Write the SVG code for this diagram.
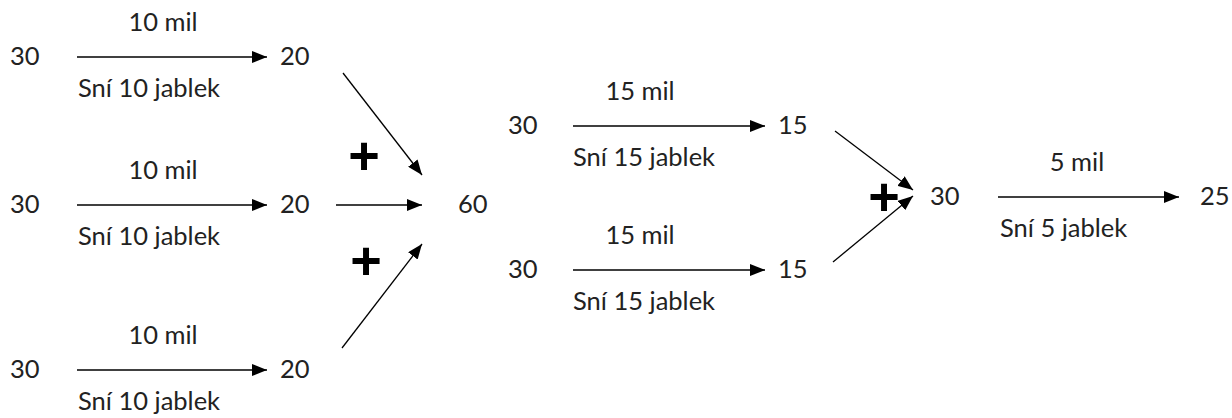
<svg xmlns="http://www.w3.org/2000/svg" width="1232" height="418" viewBox="0 0 1232 418">
<style>
text{font-family:"Lato","Liberation Sans",sans-serif;font-size:25.5px;fill:#222}
.m{text-anchor:middle}
.p{font-family:"Liberation Sans",sans-serif;font-weight:bold;font-size:54px;fill:#000;text-anchor:middle}
.c line{stroke:#000;stroke-width:1.3;marker-end:url(#ah)}
</style>
<defs>
<marker id="ah" viewBox="0 0 15 12" refX="15" refY="6" markerWidth="15" markerHeight="12" markerUnits="userSpaceOnUse" orient="auto">
<path d="M0,0 L15,6 L0,12 Z" fill="#000"/>
</marker>
</defs>
<g id="n1"><text x="10" y="65">30</text><text x="280" y="65">20</text><text class="m" x="163" y="31">10 mil</text><text x="78" y="97">Sní 10 jablek</text></g>
<g id="n2"><text x="10" y="213">30</text><text x="280" y="213">20</text><text class="m" x="163" y="179">10 mil</text><text x="78" y="245">Sní 10 jablek</text></g>
<g id="n3"><text x="10" y="378">30</text><text x="280" y="378">20</text><text class="m" x="163" y="344">10 mil</text><text x="78" y="410">Sní 10 jablek</text></g>
<g id="n60"><text x="458" y="213">60</text></g>
<g id="n4"><text x="508" y="134">30</text><text x="778" y="134">15</text><text class="m" x="640" y="100">15 mil</text><text x="573" y="166">Sní 15 jablek</text></g>
<g id="n5"><text x="508" y="278">30</text><text x="778" y="278">15</text><text class="m" x="640" y="244">15 mil</text><text x="573" y="310">Sní 15 jablek</text></g>
<g id="n6"><text x="930" y="205">30</text><text x="1200" y="205">25</text><text class="m" x="1077" y="171">5 mil</text><text x="1000" y="237">Sní 5 jablek</text></g>
<g id="plus"><text class="p" x="364" y="174">+</text><text class="p" x="366" y="279">+</text><text class="p" x="884" y="215">+</text></g>
<g class="c" id="connectors">
<line x1="77" y1="57" x2="267" y2="57"/>
<line x1="77" y1="205" x2="267" y2="205"/>
<line x1="77" y1="370" x2="267" y2="370"/>
<line x1="343" y1="73" x2="422" y2="175"/>
<line x1="336" y1="205" x2="422" y2="205"/>
<line x1="342" y1="348" x2="422" y2="244"/>
<line x1="573" y1="126" x2="765" y2="126"/>
<line x1="573" y1="270" x2="765" y2="270"/>
<line x1="835" y1="131" x2="913" y2="190"/>
<line x1="833" y1="262" x2="913" y2="196"/>
<line x1="998" y1="197" x2="1179" y2="197"/>
</g>
</svg>
